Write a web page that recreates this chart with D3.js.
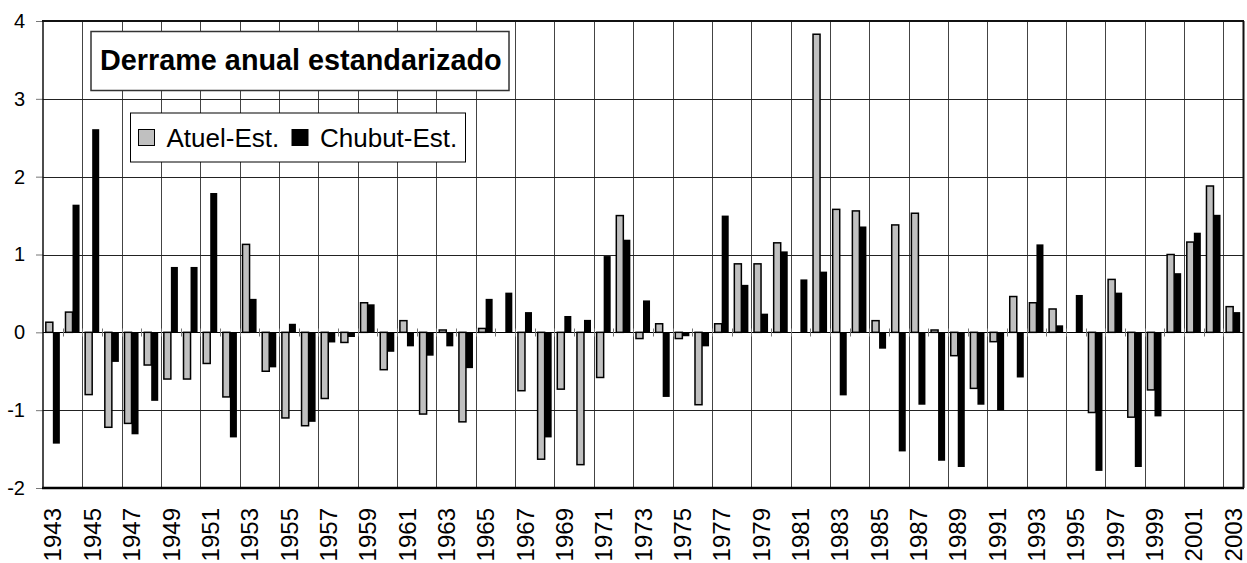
<!DOCTYPE html>
<html>
<head>
<meta charset="utf-8">
<script src="https://cdn.jsdelivr.net/npm/d3@7"></script>
<style>
  body { margin: 0; background: #fff; }
  svg { display: block; font-family: "Liberation Sans", Arial, sans-serif; }
</style>
</head>
<body>
<div id="chart"></div>
<script>
// years on the category axis
const years = [
  1943, 1944, 1945, 1946, 1947, 1948, 1949, 1950, 1951, 1952,
  1953, 1954, 1955, 1956, 1957, 1958, 1959, 1960, 1961, 1962,
  1963, 1964, 1965, 1966, 1967, 1968, 1969, 1970, 1971, 1972,
  1973, 1974, 1975, 1976, 1977, 1978, 1979, 1980, 1981, 1982,
  1983, 1984, 1985, 1986, 1987, 1988, 1989, 1990, 1991, 1992,
  1993, 1994, 1995, 1996, 1997, 1998, 1999, 2000, 2001, 2002, 2003
];

const atuel = [
  0.13, 0.26, -0.80, -1.22, -1.17, -0.42, -0.60, -0.60, -0.40, -0.83,
  1.13, -0.50, -1.10, -1.20, -0.85, -0.13, 0.38, -0.48, 0.15, -1.05,
  0.03, -1.15, 0.05, 0.00, -0.75, -1.63, -0.73, -1.70, -0.58, 1.50,
  -0.08, 0.11, -0.08, -0.93, 0.11, 0.88, 0.88, 1.15, 0.00, 3.83,
  1.58, 1.56, 0.15, 1.38, 1.53, 0.03, -0.30, -0.72, -0.12, 0.46,
  0.38, 0.30, 0.00, -1.03, 0.68, -1.09, -0.74, 1.00, 1.16, 1.88, 0.33
];

const chubut = [
  -1.43, 1.64, 2.61, -0.38, -1.31, -0.88, 0.84, 0.84, 1.79, -1.35,
  0.43, -0.45, 0.11, -1.15, -0.13, -0.06, 0.36, -0.25, -0.18, -0.30,
  -0.18, -0.46, 0.43, 0.51, 0.26, -1.35, 0.21, 0.16, 0.98, 1.19,
  0.41, -0.83, -0.05, -0.18, 1.50, 0.61, 0.24, 1.04, 0.68, 0.78,
  -0.81, 1.36, -0.21, -1.53, -0.93, -1.65, -1.73, -0.93, -1.00, -0.58,
  1.13, 0.09, 0.48, -1.78, 0.51, -1.73, -1.08, 0.76, 1.28, 1.51, 0.26
];

const seriesNames = ['Atuel-Est.', 'Chubut-Est.'];
const yTicks = [-2, -1, 0, 1, 2, 3, 4];
const xLabels = [
  1943, 1945, 1947, 1949, 1951, 1953, 1955, 1957, 1959, 1961, 1963,
  1965, 1967, 1969, 1971, 1973, 1975, 1977, 1979, 1981, 1983, 1985,
  1987, 1989, 1991, 1993, 1995, 1997, 1999, 2001, 2003
];
const titleText = 'Derrame anual estandarizado';

const W = 1247, H = 563;
const margin = { left: 43, right: 1243, top: 21, bottom: 488 };

const svg = d3.select('#chart').append('svg')
  .attr('width', W)
  .attr('height', H);

const x = d3.scaleBand()
  .domain(years)
  .range([margin.left, margin.right])
  .padding(0);

const x1 = d3.scaleBand()
  .domain(seriesNames)
  .range([0, x.bandwidth()])
  .paddingInner(0)
  .paddingOuter(0.4);

const y = d3.scaleLinear()
  .domain([-2, 4])
  .range([margin.bottom, margin.top]);

const fill = d3.scaleOrdinal()
  .domain(seriesNames)
  .range(['#c0c0c0', '#000']);

// vertical gridlines, every second category boundary
const vLines = years.filter((d, i) => i % 2 === 0 && i > 0);
svg.append('g')
  .selectAll('line')
  .data(vLines)
  .enter()
  .append('line')
  .attr('x1', d => Math.round(x(d)) + 0.5)
  .attr('x2', d => Math.round(x(d)) + 0.5)
  .attr('y1', margin.top)
  .attr('y2', margin.bottom)
  .attr('stroke', '#444')
  .attr('stroke-width', 1);

// horizontal gridlines
svg.append('g')
  .selectAll('line')
  .data(yTicks.filter(d => d > -2 && d < 4 && d !== 0))
  .enter()
  .append('line')
  .attr('x1', margin.left)
  .attr('x2', margin.right)
  .attr('y1', d => Math.round(y(d)) + 0.5)
  .attr('y2', d => Math.round(y(d)) + 0.5)
  .attr('stroke', '#222')
  .attr('stroke-width', 1);

// title box
svg.append('rect')
  .attr('x', 91)
  .attr('y', 31.5)
  .attr('width', 418)
  .attr('height', 59)
  .attr('fill', '#fff')
  .attr('stroke', '#333')
  .attr('stroke-width', 1.5);

svg.append('text')
  .attr('x', 100)
  .attr('y', 70)
  .style('font-size', '28.8px')
  .style('font-weight', 'bold')
  .text(titleText);

// legend box
const legend = svg.append('g');
legend.append('rect')
  .attr('x', 130.5)
  .attr('y', 113)
  .attr('width', 335)
  .attr('height', 49)
  .attr('fill', '#fff')
  .attr('stroke', '#000')
  .attr('stroke-width', 1);

const legendX = [138.5, 292];
seriesNames.forEach((name, i) => {
  legend.append('rect')
    .attr('x', legendX[i])
    .attr('y', 129.5)
    .attr('width', 16)
    .attr('height', 16)
    .attr('fill', fill(name))
    .attr('stroke', '#000')
    .attr('stroke-width', 1);
  legend.append('text')
    .attr('x', legendX[i] + 28)
    .attr('y', 147)
    .style('font-size', '26px')
    .text(name);
});

// bars
const rows = years.map((yr, i) => ({ year: yr, values: [atuel[i], chubut[i]] }));

const groups = svg.append('g')
  .selectAll('g')
  .data(rows)
  .enter()
  .append('g')
  .attr('transform', d => `translate(${x(d.year)},0)`);

groups.selectAll('rect')
  .data(d => d.values.map((v, k) => ({ key: seriesNames[k], value: v })))
  .enter()
  .append('rect')
  .attr('x', d => x1(d.key))
  .attr('width', x1.bandwidth())
  .attr('y', d => y(Math.max(0, d.value)))
  .attr('height', d => Math.abs(y(d.value) - y(0)))
  .attr('fill', d => fill(d.key))
  .attr('stroke', '#000')
  .attr('stroke-width', d => d.key === seriesNames[0] ? 1.5 : 0);

// zero line with crossing ticks at every category boundary
const y0 = Math.round(y(0)) + 0.5;
svg.append('line')
  .attr('x1', margin.left)
  .attr('x2', margin.right)
  .attr('y1', y0)
  .attr('y2', y0)
  .attr('stroke', '#000')
  .attr('stroke-width', 1);

svg.append('g')
  .selectAll('line')
  .data(years.slice(1))
  .enter()
  .append('line')
  .attr('x1', d => Math.round(x(d)) + 0.5)
  .attr('x2', d => Math.round(x(d)) + 0.5)
  .attr('y1', y0 - 4)
  .attr('y2', y0 + 4)
  .attr('stroke', '#777')
  .attr('stroke-width', 1);

// y axis (plain hyphen for negatives, like the original)
const yAxis = svg.append('g')
  .attr('transform', `translate(${margin.left},0)`)
  .call(d3.axisLeft(y).tickValues(yTicks).tickSize(7).tickPadding(11).tickFormat(d => String(d)));

yAxis.select('.domain').remove();
yAxis.selectAll('line').attr('stroke', '#777');
yAxis.selectAll('text')
  .style('font-size', '20px')
  .style('font-family', '"Liberation Sans", Arial, sans-serif')
  .attr('fill', '#000');

// x axis labels
const xAxis = svg.append('g')
  .attr('transform', `translate(0,${margin.bottom})`)
  .call(d3.axisBottom(x).tickValues(xLabels).tickSize(0));

xAxis.select('.domain').remove();
xAxis.selectAll('text')
  .attr('transform', 'rotate(-90)')
  .attr('x', -20)
  .attr('y', 0)
  .attr('dy', '0.36em')
  .attr('text-anchor', 'end')
  .attr('fill', '#000')
  .style('font-size', '24px')
  .style('font-family', '"Liberation Sans", Arial, sans-serif');

// plot frame
svg.append('line')
  .attr('x1', margin.left - 1).attr('x2', margin.right + 1)
  .attr('y1', margin.top).attr('y2', margin.top)
  .attr('stroke', '#111').attr('stroke-width', 2);
svg.append('line')
  .attr('x1', margin.left - 1).attr('x2', margin.right + 1)
  .attr('y1', margin.bottom).attr('y2', margin.bottom)
  .attr('stroke', '#000').attr('stroke-width', 2.5);
svg.append('line')
  .attr('x1', margin.left).attr('x2', margin.left)
  .attr('y1', margin.top).attr('y2', margin.bottom)
  .attr('stroke', '#111').attr('stroke-width', 1.5);
svg.append('line')
  .attr('x1', margin.right + 0.5).attr('x2', margin.right + 0.5)
  .attr('y1', margin.top).attr('y2', margin.bottom)
  .attr('stroke', '#111').attr('stroke-width', 2);
</script>
</body>
</html>
